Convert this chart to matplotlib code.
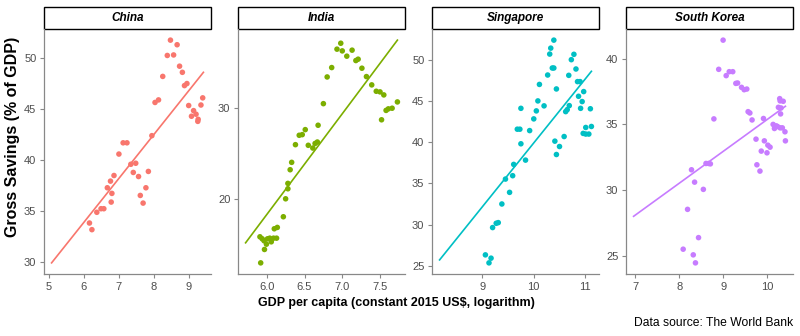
import numpy as np
import matplotlib.pyplot as plt
from matplotlib.patches import Rectangle

plt.rcParams['font.family'] = ['Liberation Sans', 'DejaVu Sans']

countries = ["China", "India", "Singapore", "South Korea"]
colors = ["#F8766D", "#7CAE00", "#00BFC4", "#C77CFF"]

# log GDP per capita vs gross savings (% of GDP)
china_x = [6.16, 6.23, 6.37, 6.49, 6.57, 6.67, 6.76, 6.80, 6.78, 6.86, 7.00, 7.12, 7.23,
           7.34, 7.48, 7.41, 7.56, 7.61, 7.69, 7.77, 7.84, 7.94, 8.03, 8.13, 8.25, 8.38,
           8.47, 8.56, 8.66, 8.73, 8.81, 8.87, 8.94, 8.99, 9.07, 9.13, 9.20, 9.25, 9.26,
           9.34, 9.39]
china_y = [33.85, 33.2, 34.9, 35.25, 35.25, 37.3, 37.95, 36.75, 35.9, 38.5, 40.6, 41.7, 41.7,
           39.6, 39.7, 38.8, 38.4, 36.55, 35.8, 37.3, 38.9, 42.4, 45.65, 45.9, 48.2, 50.25,
           51.75, 50.3, 51.3, 49.2, 48.6, 47.3, 47.5, 45.35, 44.3, 44.85, 44.5, 43.8, 44.0,
           45.4, 46.1]
china_fit_x = [5.08, 9.41]
china_fit_y = [29.95, 48.6]

india_x = [5.92, 5.91, 5.94, 5.965, 5.996, 5.97, 6.01, 6.04, 6.06, 6.09, 6.13, 6.10, 6.14,
           6.22, 6.25, 6.28, 6.28, 6.31, 6.33, 6.38, 6.43, 6.47, 6.51, 6.55, 6.61, 6.64,
           6.67, 6.68, 6.75, 6.80, 6.86, 6.93, 6.98, 7.00, 7.06, 7.13, 7.18, 7.21, 7.26,
           7.32, 7.39, 7.45, 7.50, 7.55, 7.52, 7.58, 7.61, 7.66, 7.73]
india_y = [13.0, 15.86, 15.64, 15.42, 15.05, 14.47, 15.64, 15.71, 15.31, 15.71, 15.71, 16.74, 16.89,
           18.06, 20.03, 21.13, 21.72, 23.22, 24.03, 25.97, 27.0, 27.07, 27.62, 25.9, 25.6, 26.1,
           26.26, 28.1, 30.47, 33.4, 34.43, 36.45, 37.1, 36.26, 35.68, 36.34, 35.2, 35.35, 34.36,
           33.44, 32.53, 31.83, 31.76, 31.43, 28.7, 29.73, 29.9, 29.97, 30.66]
india_fit_x = [5.72, 7.73]
india_fit_y = [15.2, 37.44]

singapore_x = [9.06, 9.13, 9.17, 9.20, 9.27, 9.31, 9.38, 9.53, 9.45, 9.59, 9.61, 9.84, 9.75,
               9.68, 9.73, 9.75, 9.92, 10.00, 10.05, 10.08, 10.11, 10.20, 10.27, 10.31, 10.33,
               10.39, 10.36, 10.39, 10.41, 10.44, 10.44, 10.50, 10.59, 10.62, 10.65, 10.69,
               10.68, 10.73, 10.78, 10.82, 10.85, 10.90, 10.87, 10.91, 10.94, 10.97, 10.96,
               11.01, 11.01, 11.07, 11.12, 11.10]
singapore_y = [26.33, 25.36, 25.93, 29.64, 30.16, 30.24, 32.5, 33.91, 35.52, 35.93, 37.3, 37.82, 39.8,
               41.57, 41.57, 44.1, 41.4, 42.82, 43.79, 45.0, 47.0, 44.4, 48.14, 50.68, 51.4,
               52.37, 48.99, 48.99, 40.12, 46.45, 38.5, 39.47, 40.68, 43.7, 43.94, 44.43,
               48.1, 50.0, 50.65, 48.87, 47.34, 47.34, 45.56, 44.1, 44.92, 46.13, 41.06,
               41.78, 40.98, 40.98, 41.9, 44.05]
singapore_fit_x = [8.17, 11.12]
singapore_fit_y = [25.72, 48.59]

korea_x = [9.00, 8.90, 9.07, 9.14, 9.22, 9.29, 9.33, 9.42, 9.48, 9.54, 9.57, 9.61, 9.66,
           8.79, 9.92, 9.75, 9.94, 10.02, 10.07, 9.87, 10.00, 9.77, 9.84, 10.14, 10.17,
           10.21, 10.24, 10.26, 10.29, 10.30, 10.32, 10.37, 10.31, 10.30, 10.35, 10.41,
           10.42, 8.28, 8.35, 8.61, 8.67, 8.71, 8.55, 8.19, 8.44, 8.09, 8.32, 8.37]
korea_y = [41.41, 39.19, 38.71, 39.01, 39.01, 38.12, 38.15, 37.82, 37.64, 37.69, 35.97, 35.87, 35.34,
           35.42, 35.45, 33.88, 33.75, 33.42, 33.27, 32.97, 32.84, 31.93, 31.45, 35.0, 34.69,
           34.89, 34.84, 36.3, 36.96, 36.79, 36.25, 36.76, 35.8, 34.74, 34.74, 34.44,
           33.75, 31.55, 30.61, 32.03, 32.03, 32.0, 30.06, 28.54, 26.39, 25.51, 25.08, 24.47]
korea_fit_x = [6.96, 10.42]
korea_fit_y = [28.01, 36.38]

xs = [china_x, india_x, singapore_x, korea_x]
ys = [china_y, india_y, singapore_y, korea_y]
fit_xs = [china_fit_x, india_fit_x, singapore_fit_x, korea_fit_x]
fit_ys = [china_fit_y, india_fit_y, singapore_fit_y, korea_fit_y]

x_ticks = [[5, 6, 7, 8, 9], [6.0, 6.5, 7.0, 7.5], [9, 10, 11], [7, 8, 9, 10]]
x_labels = [["5", "6", "7", "8", "9"], ["6.0", "6.5", "7.0", "7.5"], ["9", "10", "11"], ["7", "8", "9", "10"]]
y_ticks = [[30, 35, 40, 45, 50], [20, 30], [25, 30, 35, 40, 45, 50], [25, 30, 35, 40]]

W, H = 800, 336
fig = plt.figure(figsize=(W / 100, H / 100), dpi=100)
lefts = [44, 238, 432, 626]
pw = 167
top, bottom = 29, 274
strip_h = 22
grey = "#4D4D4D"

for i, name in enumerate(countries):
    ax = fig.add_axes([lefts[i] / W, 1 - bottom / H, pw / W, (bottom - top) / H])
    ax.scatter(xs[i], ys[i], s=16, color=colors[i], edgecolors='none', zorder=3)
    ax.plot(fit_xs[i], fit_ys[i], color=colors[i], lw=1.2, zorder=2)
    ax.margins(0.05)
    ax.set_xticks(x_ticks[i])
    ax.set_xticklabels(x_labels[i])
    ax.set_yticks(y_ticks[i])
    for s in ["top", "right"]:
        ax.spines[s].set_visible(False)
    for s in ["left", "bottom"]:
        ax.spines[s].set_color("#888888")
        ax.spines[s].set_linewidth(0.9)
    ax.tick_params(colors="#888888", labelcolor=grey, labelsize=8, length=3, width=0.8, pad=2.5)
    # facet strip
    sh = strip_h / (bottom - top)
    ax.add_patch(Rectangle((0, 1.0), 1, sh, transform=ax.transAxes, facecolor="white",
                           edgecolor="black", lw=1.0, clip_on=False))
    ax.text(0.5, 1 + sh / 2, name, transform=ax.transAxes, ha="center", va="center",
            fontsize=8.5, fontweight="bold", fontstyle="italic")

fig.text(12.5 / W, 1 - 137 / H, "Gross Savings (% of GDP)", rotation=90, ha="center", va="center",
         fontsize=11.5, fontweight="bold")
fig.text(396 / W, 1 - 303 / H, "GDP per capita (constant 2015 US$, logarithm)", ha="center",
         va="center", fontsize=9, fontweight="bold")
fig.text(793 / W, 1 - 323 / H, "Data source: The World Bank", ha="right", va="center", fontsize=8.7)

fig.savefig("out.png", dpi=100, facecolor="white")
